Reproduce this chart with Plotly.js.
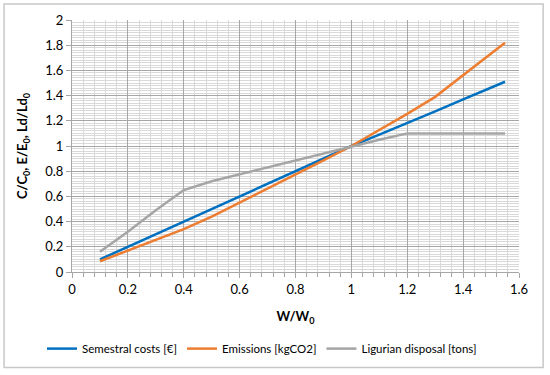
<!DOCTYPE html>
<html>
<head>
<meta charset="utf-8">
<script src="https://cdn.plot.ly/plotly-3.0.1.min.js"></script>
<style>html,body{margin:0;padding:0;background:#fff;}#chart{width:550px;height:375px;}</style>
</head>
<body>
<div id="chart"></div>
<script>
const xRatio = [0.1, 0.2, 0.3, 0.4, 0.5, 0.6, 0.7, 0.8, 0.9, 1.0, 1.1, 1.2, 1.3, 1.4, 1.5, 1.55];
const costs = [0.10, 0.20, 0.305, 0.405, 0.505, 0.605, 0.705, 0.80, 0.90, 1.0, 1.09, 1.18, 1.275, 1.37, 1.465, 1.51];
const emissions = [0.085, 0.17, 0.255, 0.34, 0.44, 0.55, 0.66, 0.77, 0.885, 1.0, 1.125, 1.255, 1.39, 1.56, 1.73, 1.82];
const disposal = [0.16, 0.32, 0.49, 0.65, 0.72, 0.775, 0.83, 0.885, 0.94, 1.0, 1.05, 1.10, 1.10, 1.10, 1.10, 1.10];
const seriesNames = ['Semestral costs [€]', 'Emissions [kgCO2]', 'Ligurian disposal [tons]'];
const xTitle = 'W/W<sub>0</sub>';
const yTitle = 'C/C<sub>0</sub>, E/E<sub>0</sub>, Ld/Ld<sub>0</sub>';

const font = 'Lato, "Open Sans", sans-serif';
const traces = [
  {x: xRatio, y: costs, name: seriesNames[0], mode: 'lines', line: {color: '#0070C0', width: 2.5}},
  {x: xRatio, y: emissions, name: seriesNames[1], mode: 'lines', line: {color: '#ED7D31', width: 2.5}},
  {x: xRatio, y: disposal, name: seriesNames[2], mode: 'lines', line: {color: '#A5A5A5', width: 2.5}}
];
const layout = {
  width: 550, height: 375,
  margin: {l: 72, r: 31, t: 20, b: 100},
  paper_bgcolor: '#fff', plot_bgcolor: '#fff',
  font: {family: font, size: 13, color: '#000'},
  showlegend: true,
  legend: {orientation: 'h', x: 0.425, xanchor: 'center', y: -0.304, yanchor: 'middle',
           font: {family: font, size: 11.5, color: '#000'}, itemwidth: 30, tracegroupgap: 0},
  xaxis: {
    range: [0, 1.6], dtick: 0.2, tick0: 0, fixedrange: true,
    showgrid: true, gridcolor: '#a6a6a6', gridwidth: 1,
    minor: {dtick: 0.04, showgrid: true, gridcolor: '#d9d9d9', gridwidth: 1, ticks: 'outside', ticklen: 4, tickcolor: '#a6a6a6'},
    ticks: 'outside', ticklen: 5, tickcolor: '#a6a6a6',
    showline: true, linecolor: '#a6a6a6', linewidth: 1,
    zeroline: false,
    title: {text: '<b>' + xTitle + '</b>', font: {family: font, size: 13}, standoff: 16},
    tickfont: {family: font, size: 13}
  },
  yaxis: {
    range: [0, 2], dtick: 0.2, tick0: 0, fixedrange: true,
    showgrid: true, gridcolor: '#a6a6a6', gridwidth: 1,
    minor: {dtick: 0.02, showgrid: true, gridcolor: '#d9d9d9', gridwidth: 1},
    ticks: 'outside', ticklen: 5, tickcolor: '#a6a6a6',
    showline: true, linecolor: '#a6a6a6', linewidth: 1,
    zeroline: false,
    title: {text: '<b>' + yTitle + '</b>', font: {family: font, size: 13}, standoff: 14},
    tickfont: {family: font, size: 13}
  },
  shapes: [{type: 'rect', xref: 'paper', yref: 'paper', x0: -0.152, x1: 1.054, y0: -0.379, y1: 1.063,
            line: {color: '#c8c8c8', width: 1.5}, fillcolor: 'rgba(0,0,0,0)', layer: 'below'}]
};
Plotly.newPlot('chart', traces, layout, {displayModeBar: false, staticPlot: true});
</script>
</body>
</html>
